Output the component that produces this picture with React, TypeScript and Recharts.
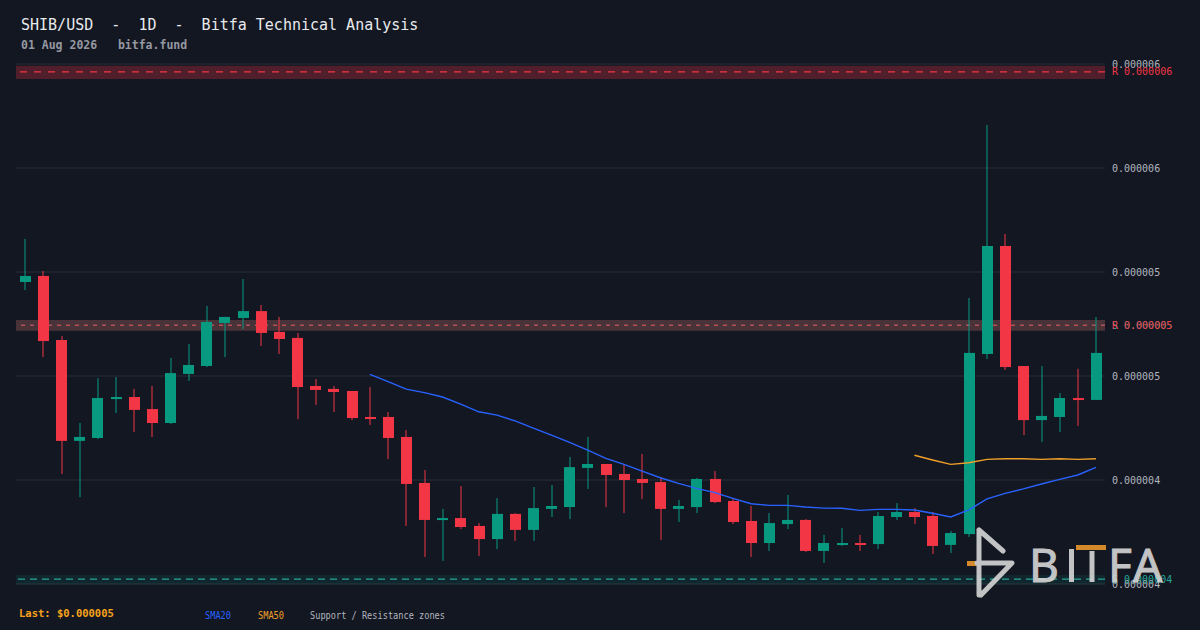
import {
  Bar,
  CartesianGrid,
  ComposedChart,
  Line,
  ReferenceArea,
  ReferenceLine,
  XAxis,
  YAxis,
} from 'recharts';

// prices are in units of 0.000001 USD
const days = Array.from({ length: 60 }, (_, i) => `D${i + 1}`);

const open = [
  4.952, 4.981, 4.673, 4.188, 4.202, 4.389, 4.399, 4.341, 4.274, 4.51,
  4.548, 4.755, 4.779, 4.812, 4.712, 4.683, 4.452, 4.438, 4.428, 4.303,
  4.303, 4.207, 3.986, 3.808, 3.817, 3.779, 3.716, 3.837, 3.76, 3.861,
  3.87, 4.058, 4.077, 4.029, 4.005, 3.99, 3.861, 3.87, 4.005, 3.899,
  3.803, 3.697, 3.788, 3.808, 3.659, 3.688, 3.697, 3.692, 3.822, 3.846,
  3.827, 3.688, 3.74, 4.606, 5.125, 4.548, 4.288, 4.303, 4.394, 4.385,
];
const close = [
  4.981, 4.668, 4.188, 4.207, 4.394, 4.399, 4.337, 4.274, 4.514, 4.553,
  4.76, 4.784, 4.812, 4.707, 4.678, 4.447, 4.433, 4.423, 4.298, 4.293,
  4.202, 3.981, 3.808, 3.817, 3.774, 3.716, 3.837, 3.76, 3.865, 3.875,
  4.062, 4.077, 4.024, 4.0, 3.986, 3.861, 3.875, 4.005, 3.894, 3.798,
  3.697, 3.793, 3.808, 3.659, 3.697, 3.697, 3.688, 3.827, 3.846, 3.822,
  3.683, 3.745, 4.611, 5.125, 4.543, 4.288, 4.308, 4.394, 4.385, 4.611,
];
const high = [
  5.159, 5.005, 4.692, 4.274, 4.49, 4.495, 4.438, 4.452, 4.587, 4.654,
  4.837, 4.784, 4.966, 4.841, 4.784, 4.707, 4.486, 4.452, 4.428, 4.447,
  4.327, 4.24, 4.048, 3.861, 3.971, 3.793, 3.913, 3.841, 3.966, 3.976,
  4.111, 4.207, 4.077, 4.077, 4.125, 4.014, 3.904, 4.01, 4.043, 3.913,
  3.875, 3.841, 3.928, 3.812, 3.736, 3.769, 3.736, 3.846, 3.889, 3.865,
  3.846, 3.755, 4.875, 5.707, 5.183, 4.548, 4.548, 4.418, 4.534, 4.784,
];
const low = [
  4.913, 4.591, 4.029, 3.918, 4.197, 4.322, 4.231, 4.207, 4.269, 4.476,
  4.543, 4.591, 4.726, 4.644, 4.606, 4.293, 4.361, 4.327, 4.288, 4.264,
  4.101, 3.779, 3.63, 3.611, 3.764, 3.635, 3.668, 3.707, 3.707, 3.822,
  3.812, 3.957, 3.87, 3.841, 3.909, 3.712, 3.798, 3.841, 3.889, 3.788,
  3.63, 3.659, 3.764, 3.654, 3.601, 3.683, 3.659, 3.668, 3.808, 3.788,
  3.644, 3.649, 3.726, 4.582, 4.529, 4.216, 4.183, 4.231, 4.26, 4.385,
];
const sma20 = [
  null, null, null, null, null, null, null, null, null, null,
  null, null, null, null, null, null, null, null, null, 4.508,
  4.473, 4.437, 4.42, 4.399, 4.365, 4.328, 4.312, 4.284, 4.249, 4.216,
  4.181, 4.144, 4.104, 4.075, 4.043, 4.011, 3.984, 3.96, 3.939, 3.912,
  3.886, 3.878, 3.878, 3.87, 3.865, 3.864, 3.854, 3.859, 3.859, 3.856,
  3.84, 3.822, 3.856, 3.909, 3.936, 3.957, 3.981, 4.003, 4.024, 4.061,
];
const sma50 = [
  null, null, null, null, null, null, null, null, null, null,
  null, null, null, null, null, null, null, null, null, null,
  null, null, null, null, null, null, null, null, null, null,
  null, null, null, null, null, null, null, null, null, null,
  null, null, null, null, null, null, null, null, null, 4.119,
  4.096, 4.075, 4.083, 4.099, 4.102, 4.102, 4.099, 4.102, 4.099, 4.102,
];

// support / resistance zones
const zoneKind = ['S', 'S', 'R', 'R'];
const zoneLevel = [4.744, 3.523, 5.962, 4.744];
const zoneLow = [4.718, 3.498, 5.928, 4.718];
const zoneHigh = [4.769, 3.543, 5.992, 4.769];

const yDomain = [3.45, 6.05];
const yTicks = [3.5, 4.0, 4.5, 5.0, 5.5, 6.0];
const lastPrice = 4.611;

const UP = '#089981';
const DOWN = '#f23645';
const TEAL = '#26a69a';
const MONO = '"DejaVu Sans Mono", monospace';
const LOGO = '#d6d6d6';

// per-zone drawing style (same order as the zone arrays)
const zoneOpacity = [0.2, 0.12, 0.28, 0.25];
const zoneDash = ['4 5', '7 5', '7 7', '4 5'];
const zoneStrokeW = [1, 1.2, 1.4, 1];

const fmt = (v: number) => (Math.round(v) / 1e6).toFixed(6);

const data = days.map((day, i) => ({
  day,
  open: open[i],
  close: close[i],
  high: high[i],
  low: low[i],
  sma20: sma20[i],
  sma50: sma50[i],
}));

// grid rows at the y ticks, mapped through the same linear domain as the axis
const gridRows = ({ offset }: any) =>
  yTicks.map((t) => offset.top + ((yDomain[1] - t) / (yDomain[1] - yDomain[0])) * offset.height);

const Candle = (props: any) => {
  const { x, y, width, height, payload } = props;
  const top = Math.min(y, y + height);
  const h = Math.abs(height);
  const { open: o, close: c, high: hi, low: lo } = payload;
  const ratio = hi > lo ? h / (hi - lo) : 0;
  const yOf = (v: number) => top + (hi - v) * ratio;
  const cx = x + width / 2;
  const color = c >= o ? UP : DOWN;
  const bTop = yOf(Math.max(o, c));
  const bBot = yOf(Math.min(o, c));
  return (
    <g>
      <rect x={Math.round(cx) - 0.5} y={top} width={1} height={h} fill={color} />
      <rect x={Math.round(cx - 5.5)} y={bTop} width={11} height={Math.max(2, bBot - bTop)} fill={color} />
    </g>
  );
};

const zoneOrder = [0, 1, 2, 3];

export default function App() {
  return (
    <div style={{ position: 'fixed', left: 0, top: 0, width: 1200, height: 630, background: '#131722' }}>
      <ComposedChart
        width={1200}
        height={630}
        data={data}
        margin={{ top: 53.6, right: 0, bottom: 35.6, left: 16 }}
      >
        <CartesianGrid
          vertical={false}
          stroke="#2a2e39"
          strokeWidth={1}
          horizontalCoordinatesGenerator={gridRows}
        />
        <XAxis dataKey="day" hide />
        <YAxis
          orientation="right"
          width={95}
          domain={yDomain}
          ticks={yTicks}
          tickFormatter={fmt}
          axisLine={false}
          tickLine={false}
          tickSize={0}
          tickMargin={7}
          tick={{ fill: '#b2b5be', fontSize: 10, fontFamily: MONO, textAnchor: 'start' }}
          interval={0}
        />
        {zoneOrder.map((i) => (
          <ReferenceArea
            key={`za-${i}`}
            y1={zoneLow[i]}
            y2={zoneHigh[i]}
            fill={zoneKind[i] === 'R' ? DOWN : UP}
            fillOpacity={zoneOpacity[i]}
            stroke="none"
            zIndex={-80 + i}
          />
        ))}
        {zoneOrder.map((i) => (
          <ReferenceLine
            key={`zl-${i}`}
            y={zoneLevel[i]}
            stroke={zoneKind[i] === 'R' ? DOWN : TEAL}
            strokeWidth={zoneStrokeW[i]}
            strokeDasharray={zoneDash[i]}
            zIndex={-70 + i}
            label={{
              value: `${zoneKind[i]} ${fmt(zoneLevel[i])}`,
              position: 'right',
              offset: 7,
              fill: zoneKind[i] === 'R' ? DOWN : TEAL,
              fontSize: 10,
              fontFamily: MONO,
            }}
          />
        ))}
        <Bar
          dataKey={(d: any) => [d.low, d.high]}
          shape={<Candle />}
          isAnimationActive={false}
        />
        <Line
          dataKey="sma20"
          stroke="#2962ff"
          strokeWidth={1.4}
          dot={false}
          activeDot={false}
          isAnimationActive={false}
        />
        <Line
          dataKey="sma50"
          stroke="#f0a02a"
          strokeWidth={1.4}
          dot={false}
          activeDot={false}
          isAnimationActive={false}
        />
      </ComposedChart>
      <svg
        width={1200}
        height={630}
        style={{ position: 'absolute', left: 0, top: 0, pointerEvents: 'none' }}
      >
        <text x={21} y={29.5} fill="#e8eaed" fontSize={15} fontFamily={MONO} style={{ whiteSpace: 'pre' }}>
          SHIB/USD  -  1D  -  Bitfa Technical Analysis
        </text>
        <text x={21} y={49} fill="#9598a1" fontSize={11.5} fontWeight="bold" fontFamily={MONO} style={{ whiteSpace: 'pre' }}>
          01 Aug 2026   bitfa.fund
        </text>
        <text x={19} y={617} fill="#f7a21b" fontSize={10.5} fontWeight="bold" fontFamily={MONO}>
          {`Last: $${fmt(lastPrice)}`}
        </text>
        <text x={205} y={618.5} fill="#2962ff" fontSize={10} fontFamily={MONO} textLength={26} lengthAdjust="spacingAndGlyphs">
          SMA20
        </text>
        <text x={258} y={618.5} fill="#f0a02a" fontSize={10} fontFamily={MONO} textLength={26} lengthAdjust="spacingAndGlyphs">
          SMA50
        </text>
        <text x={310} y={618.5} fill="#b2b5be" fontSize={10} fontFamily={MONO} textLength={135} lengthAdjust="spacingAndGlyphs" style={{ whiteSpace: 'pre' }}>
          Support / Resistance zones
        </text>
        <g opacity={0.9}>
          <rect x={967} y={561} width={10} height={5} fill="#e8962a" />
          <path
            d="M979,530 L979,595 M979,530 L1003,551 M977,563 L1012,563 L981,595"
            stroke={LOGO}
            strokeWidth={5}
            fill="none"
            strokeLinecap="round"
            strokeLinejoin="round"
          />
          <text x={1029} y={582} fill={LOGO} stroke={LOGO} strokeWidth={1} fontSize={46} fontFamily="'Noto Sans', sans-serif">B</text>
          <rect x={1069} y={549} width={5} height={33} fill={LOGO} />
          <rect x={1089.5} y={551} width={5} height={31} fill={LOGO} />
          <rect x={1076} y={545} width={30} height={5} fill="#e8962a" />
          <text x={1108} y={582} fill={LOGO} stroke={LOGO} strokeWidth={1} fontSize={46} fontFamily="'Noto Sans', sans-serif">F</text>
          <text x={1133} y={582} fill={LOGO} stroke={LOGO} strokeWidth={1} fontSize={46} fontFamily="'Noto Sans', sans-serif">A</text>
        </g>
      </svg>
    </div>
  );
}
